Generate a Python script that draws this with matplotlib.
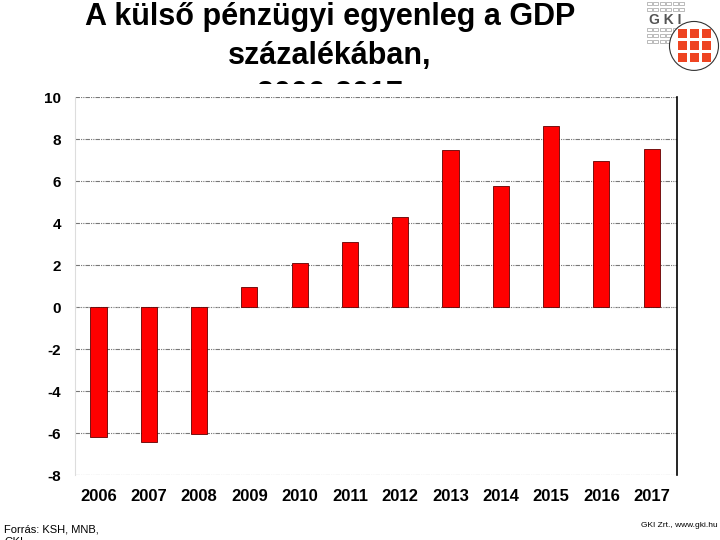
import matplotlib.pyplot as plt
from matplotlib.patches import Circle, Rectangle

years = ["2006", "2007", "2008", "2009", "2010", "2011",
         "2012", "2013", "2014", "2015", "2016", "2017"]
balance = [-6.2, -6.4, -6.05, 0.95, 2.1, 3.1, 4.3, 7.5, 5.75, 8.65, 6.95, 7.55]
y_ticks = [-8, -6, -4, -2, 0, 2, 4, 6, 8, 10]
title_lines = ["A külső pénzügyi egyenleg a GDP", "százalékában,", "2006-2017"]

plt.rcParams["font.family"] = ["Liberation Sans", "DejaVu Sans"]
narrow = ["Liberation Sans Narrow", "Liberation Sans", "DejaVu Sans"]

fig = plt.figure(figsize=(7.2, 5.4), dpi=100)

# Title, one line at a time (third line is partly hidden by the plot)
for line, ypos in zip(title_lines, [0.953, 0.881, 0.809]):
    fig.text(0.458, ypos, line, ha="center", va="baseline", fontsize=22,
             fontweight="bold", zorder=0)
# white sheet behind the plot that hides the lower part of the title
fig.patches.append(Rectangle((0.0, 0.0), 0.95, 0.845, transform=fig.transFigure,
                             facecolor="white", edgecolor="none", zorder=1))

ax = fig.add_axes([0.104, 0.12, 0.836, 0.70])
ax.set_zorder(2)
ax.set_facecolor("white")

x = range(len(years))
ax.bar(x, balance, width=0.32, color="#ff0000", edgecolor="#600000",
       linewidth=0.6, zorder=3)

ax.set_ylim(-8, 10)
ax.set_xlim(-0.47, len(years) - 0.5)
ax.set_yticks(y_ticks)
ax.set_yticklabels(y_ticks, fontsize=11, fontweight="bold", family=narrow)
ax.set_xticks(list(x))
ax.set_xticklabels(years, fontsize=12, fontweight="bold", family=narrow)
ax.tick_params(axis="both", length=0, pad=10)

ax.grid(axis="y", color="#777777", linewidth=0.8, linestyle=(0, (4, 1, 1, 1, 1, 1)))
ax.axhline(0, color="#bbbbbb", linewidth=0.6, linestyle=(0, (2, 3)), zorder=2)

for side in ["top", "bottom"]:
    ax.spines[side].set_visible(False)
ax.spines["left"].set_color("#dddddd")
ax.spines["right"].set_color("black")
ax.spines["right"].set_linewidth(1.2)

# Footer (second line runs off the slide, as in the original)
fig.text(0.006, 0.013, "Forrás: KSH, MNB,", fontsize=8, va="baseline",
         ha="left", zorder=3)
fig.text(0.006, -0.009, "GKI", fontsize=8, va="baseline", ha="left", zorder=3)
fig.text(0.997, 0.02, "GKI Zrt., www.gki.hu", fontsize=6, ha="right", va="bottom",
         zorder=3)

# Simple GKI logo
lax = fig.add_axes([0.893, 0.865, 0.107, 0.135])
lax.set_zorder(3)
lax.set_xlim(0, 77)
lax.set_ylim(73, 0)
lax.axis("off")
lax.text(22, 20, "G K I", fontsize=10, fontweight="bold", color="#555555",
         ha="center", va="center")
for row in (2, 8, 28, 34, 40):
    for col in range(6):
        lax.add_patch(Rectangle((4 + col * 6.5, row), 5, 3.5, fill=False,
                                edgecolor="#888888", linewidth=0.4))
lax.add_patch(Circle((51, 46), 24.5, facecolor="white", edgecolor="#333333",
                     linewidth=0.8))
for r in range(3):
    for c in range(3):
        lax.add_patch(Rectangle((35 + c * 12, 29 + r * 12), 9.5, 9.5,
                                facecolor="#ee4422", edgecolor="none"))

fig.savefig("out.png", dpi=100)
